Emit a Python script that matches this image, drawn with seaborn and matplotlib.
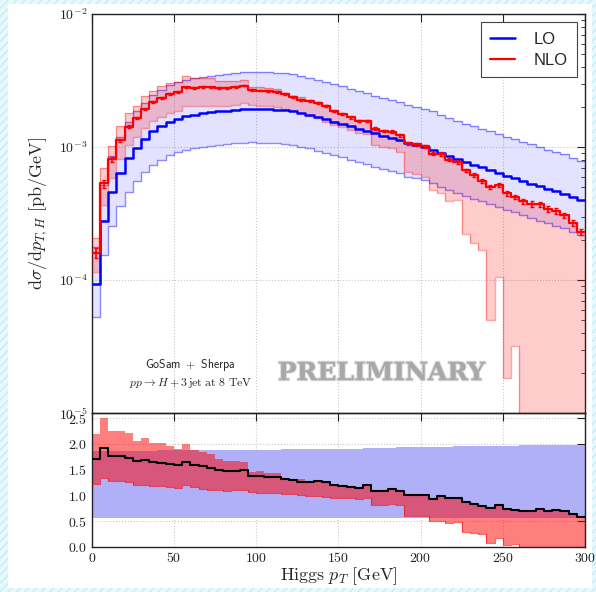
import numpy as np
import pandas as pd
import matplotlib
matplotlib.use("Agg")
import matplotlib.pyplot as plt
import seaborn as sns
from matplotlib.ticker import FixedLocator, FuncFormatter, NullFormatter
import matplotlib.patheffects as pe
from matplotlib.patches import Rectangle

# ---------------- data ----------------
bin_edges = np.arange(0, 305, 5)  # Higgs pT bins [GeV]

# LO central prediction [pb/GeV]
lo = [9.4e-5, 2.77e-4, 4.57e-4, 6.38e-4, 8.2e-4, 9.9e-4, 1.15e-3, 1.31e-3, 1.43e-3, 1.55e-3,
      1.63e-3, 1.70e-3, 1.75e-3, 1.80e-3, 1.83e-3, 1.85e-3, 1.88e-3, 1.90e-3, 1.93e-3, 1.94e-3,
      1.93e-3, 1.93e-3, 1.91e-3, 1.89e-3, 1.85e-3, 1.80e-3, 1.75e-3, 1.68e-3, 1.61e-3, 1.55e-3,
      1.50e-3, 1.43e-3, 1.37e-3, 1.32e-3, 1.27e-3, 1.22e-3, 1.17e-3, 1.13e-3, 1.07e-3, 1.04e-3,
      1.00e-3, 9.55e-4, 9.0e-4, 8.5e-4, 8.1e-4, 7.7e-4, 7.36e-4, 7.03e-4, 6.68e-4, 6.38e-4,
      6.1e-4, 5.82e-4, 5.56e-4, 5.31e-4, 5.09e-4, 4.86e-4, 4.65e-4, 4.44e-4, 4.19e-4, 3.98e-4]

# LO scale band, relative to LO
lo_up_ratio = [1.87, 1.87, 1.87, 1.87, 1.87, 1.87, 1.87, 1.87, 1.88, 1.88,
               1.88, 1.88, 1.88, 1.88, 1.88, 1.88, 1.89, 1.89, 1.89, 1.89,
               1.89, 1.89, 1.89, 1.90, 1.90, 1.90, 1.90, 1.90, 1.90, 1.91,
               1.91, 1.91, 1.91, 1.92, 1.92, 1.92, 1.92, 1.93, 1.93, 1.93,
               1.93, 1.94, 1.94, 1.94, 1.95, 1.95, 1.95, 1.95, 1.96, 1.96,
               1.96, 1.96, 1.97, 1.97, 1.97, 1.97, 1.98, 1.98, 1.98, 1.98]
lo_dn_ratio = [0.56, 0.56, 0.56, 0.56, 0.56, 0.56, 0.56, 0.56, 0.56, 0.56,
               0.56, 0.56, 0.56, 0.56, 0.56, 0.56, 0.56, 0.56, 0.56, 0.56,
               0.56, 0.56, 0.56, 0.56, 0.56, 0.56, 0.56, 0.56, 0.56, 0.56,
               0.56, 0.56, 0.56, 0.56, 0.56, 0.56, 0.56, 0.56, 0.56, 0.56,
               0.56, 0.56, 0.56, 0.56, 0.56, 0.56, 0.555, 0.555, 0.555, 0.555,
               0.555, 0.555, 0.55, 0.55, 0.55, 0.55, 0.55, 0.55, 0.55, 0.55]

# NLO / LO central
nlo_ratio = [1.70, 1.92, 1.77, 1.76, 1.735, 1.67, 1.69, 1.657, 1.631, 1.611,
             1.592, 1.65, 1.592, 1.565, 1.533, 1.493, 1.474, 1.48, 1.50, 1.376,
             1.376, 1.356, 1.35, 1.317, 1.291, 1.258, 1.258, 1.278, 1.258, 1.20,
             1.18, 1.167, 1.147, 1.193, 1.082, 1.082, 1.114, 1.082, 0.997, 1.01,
             1.01, 0.931, 0.984, 0.944, 0.951, 0.866, 0.833, 0.788, 0.755, 0.807,
             0.735, 0.722, 0.703, 0.703, 0.729, 0.703, 0.709, 0.69, 0.644, 0.578]

# NLO scale band, relative to LO
nlo_up_ratio = [2.19, 2.50, 2.245, 2.245, 2.21, 2.05, 2.11, 2.01, 2.01, 1.95,
                1.90, 2.00, 1.885, 1.85, 1.81, 1.70, 1.67, 1.66, 1.65, 1.455,
                1.475, 1.44, 1.44, 1.34, 1.31, 1.31, 1.28, 1.30, 1.28, 1.21,
                1.19, 1.175, 1.155, 1.20, 1.09, 1.09, 1.12, 1.09, 1.005, 1.015,
                1.015, 0.935, 0.99, 0.95, 0.955, 0.87, 0.838, 0.792, 0.76, 0.81,
                0.74, 0.727, 0.708, 0.708, 0.733, 0.708, 0.713, 0.695, 0.65, 0.585]
nlo_dn_ratio = [1.23, 1.33, 1.28, 1.28, 1.265, 1.21, 1.21, 1.19, 1.18, 1.17,
                1.15, 1.20, 1.16, 1.13, 1.11, 1.10, 1.09, 1.095, 1.11, 1.06,
                1.05, 1.05, 1.04, 1.03, 1.02, 1.00, 0.98, 0.98, 0.96, 0.95,
                0.95, 0.945, 0.93, 0.95, 0.82, 0.815, 0.84, 0.815, 0.605, 0.605,
                0.59, 0.50, 0.505, 0.46, 0.49, 0.29, 0.26, 0.24, 0.075, 0.165,
                0.03, 0.055, 0.0, 0.0, 0.0, 0.0, 0.0, 0.0, 0.0, 0.0]

# NLO statistical error (relative)
nlo_err = [0.09, 0.07, 0.04, 0.03, 0.025, 0.02, 0.018, 0.016, 0.015, 0.015,
           0.015, 0.015, 0.015, 0.015, 0.015, 0.015, 0.015, 0.015, 0.015, 0.015,
           0.015, 0.015, 0.015, 0.015, 0.015, 0.017, 0.018, 0.018, 0.018, 0.02,
           0.02, 0.02, 0.02, 0.022, 0.022, 0.022, 0.025, 0.025, 0.025, 0.025,
           0.028, 0.028, 0.03, 0.03, 0.03, 0.032, 0.032, 0.035, 0.035, 0.035,
           0.04, 0.04, 0.045, 0.045, 0.045, 0.05, 0.05, 0.05, 0.055, 0.06]

series_labels = ["LO", "NLO"]

# ---------------- derived quantities ----------------
lo = np.array(lo)
nlo = lo * np.array(nlo_ratio)
lo_up = lo * np.array(lo_up_ratio)
lo_dn = lo * np.array(lo_dn_ratio)
nlo_up = lo * np.array(nlo_up_ratio)
nlo_dn = np.clip(lo * np.array(nlo_dn_ratio), 1e-8, None)
centers = 0.5 * (bin_edges[:-1] + bin_edges[1:])


def ext(a):
    a = np.asarray(a, dtype=float)
    return np.append(a, a[-1])


# ---------------- style ----------------
sns.set_style("white")
plt.rcParams.update({
    "mathtext.fontset": "cm",
    "font.family": ["DejaVu Sans"],
    "axes.linewidth": 1.0,
    "axes.edgecolor": "#222222",
    "xtick.direction": "in",
    "ytick.direction": "in",
    "xtick.top": True,
    "ytick.right": True,
    "xtick.major.size": 6,
    "ytick.major.size": 6,
    "xtick.minor.size": 3,
    "ytick.minor.size": 3,
    "xtick.color": "#222222",
    "ytick.color": "#222222",
    "hatch.linewidth": 1.0,
})

W, H = 596, 592
fig = plt.figure(figsize=(W / 100, H / 100), dpi=100)

# page frame (light cyan hatched border)
fig.patches.append(Rectangle((0, 0), 1, 1, transform=fig.transFigure,
                             facecolor="#e8f9fc", edgecolor="#c4eef7", hatch="////",
                             lw=0, zorder=-20))
fig.patches.append(Rectangle((8 / W, 4 / H), (W - 12) / W, (H - 8) / H,
                             transform=fig.transFigure, facecolor="white",
                             lw=0, zorder=-19))

x0, x1 = 91.7, 585.0
ax1 = fig.add_axes([x0 / W, 1 - 413 / H, (x1 - x0) / W, (413 - 14) / H])
ax2 = fig.add_axes([x0 / W, 1 - 546.8 / H, (x1 - x0) / W, (546.8 - 413) / H])
for a in (ax1, ax2):
    a.set_facecolor("none")

ax1.set_yscale("log")

# ---------------- main panel ----------------
ax1.fill_between(bin_edges, ext(lo_dn), ext(lo_up), step="post",
                 color="#2020ff", alpha=0.12, lw=0, zorder=1)
ax1.step(bin_edges, ext(lo_up), where="post", color="blue", lw=1.0, alpha=0.45, zorder=2)
ax1.step(bin_edges, ext(lo_dn), where="post", color="blue", lw=1.0, alpha=0.45, zorder=2)

ax1.fill_between(bin_edges, ext(nlo_dn), ext(nlo_up), step="post",
                 color="red", alpha=0.2, lw=0, zorder=3)
ax1.step(bin_edges, ext(nlo_up), where="post", color="red", lw=1.0, alpha=0.35, zorder=4)
ax1.step(bin_edges, ext(nlo_dn), where="post", color="red", lw=1.0, alpha=0.35, zorder=4)

df_lo = pd.DataFrame({"pT": bin_edges, "xs": ext(lo)})
df_nlo = pd.DataFrame({"pT": bin_edges, "xs": ext(nlo)})
sns.lineplot(data=df_lo, x="pT", y="xs", drawstyle="steps-post", color="blue",
             lw=1.8, ax=ax1, estimator=None, label=series_labels[0], zorder=6)
sns.lineplot(data=df_nlo, x="pT", y="xs", drawstyle="steps-post", color="red",
             lw=1.6, ax=ax1, estimator=None, label=series_labels[1], zorder=7)
ax1.errorbar(centers, nlo, yerr=nlo * np.array(nlo_err), fmt="none", ecolor="red",
             elinewidth=1.2, capsize=1.5, capthick=1.0, zorder=7)

ax1.set_xlim(0, 300)
ax1.set_ylim(1e-5, 1e-2)
ax1.yaxis.set_major_locator(FixedLocator([1e-5, 1e-4, 1e-3, 1e-2]))
ax1.yaxis.set_major_formatter(FuncFormatter(lambda v, p: r"$10^{%d}$" % round(np.log10(v))))
minors = [m * 10.0 ** e for e in (-5, -4, -3) for m in range(2, 10)]
ax1.yaxis.set_minor_locator(FixedLocator(minors))
ax1.yaxis.set_minor_formatter(NullFormatter())
ax1.xaxis.set_major_locator(FixedLocator([0, 50, 100, 150, 200, 250, 300]))
ax1.tick_params(axis="x", labelbottom=False)
ax1.tick_params(axis="y", labelsize=10, pad=3)
ax1.grid(True, which="major", color="#c8c8c8", ls=":", lw=0.8)
ax1.set_xlabel("")
ax1.set_ylabel(r"$\mathrm{d}\sigma/\mathrm{d}p_{T,H}\ [\mathrm{pb/GeV}]$", fontsize=13)
ax1.yaxis.set_label_coords(-0.085, 0.5)

leg = ax1.legend(loc="upper right", fontsize=12, frameon=True, fancybox=False,
                 framealpha=1, edgecolor="#444444", handlelength=1.5,
                 handletextpad=1.1, labelspacing=0.4, borderpad=0.55,
                 prop={"family": "Liberation Sans", "size": 12})
leg.get_frame().set_linewidth(0.8)

ax1.text(0.20, 0.12, r"$\mathsf{GoSam}\ +\ \mathsf{Sherpa}$", transform=ax1.transAxes,
         ha="center", va="center", fontsize=8.5)
ax1.text(0.20, 0.075, r"$pp\rightarrow H+3\,\mathrm{jet\ at\ 8\ TeV}$", transform=ax1.transAxes,
         ha="center", va="center", fontsize=8.5)
ax1.text(0.587, 0.10, "PRELIMINARY", transform=ax1.transAxes, ha="center", va="center",
         fontsize=18, fontweight="bold", family="DejaVu Serif", color="#a8a8a8",
         path_effects=[pe.withStroke(linewidth=1.6, foreground="#b4b4b4", alpha=0.5)])

# ---------------- ratio panel ----------------
ax2.fill_between(bin_edges, ext(lo_dn_ratio), ext(lo_up_ratio), step="post",
                 color="#b0b0f8", lw=0, zorder=1)
ax2.fill_between(bin_edges, ext(nlo_dn_ratio), ext(nlo_up_ratio), step="post",
                 color="red", alpha=0.5, lw=0, zorder=2)
ax2.step(bin_edges, ext(nlo_dn_ratio), where="post", color="red", lw=0.8, alpha=0.6, zorder=3)
df_r = pd.DataFrame({"pT": bin_edges, "r": ext(nlo_ratio)})
sns.lineplot(data=df_r, x="pT", y="r", drawstyle="steps-post", color="black",
             lw=1.5, ax=ax2, estimator=None, zorder=5)

ax2.set_xlim(0, 300)
ax2.set_ylim(0, 2.6)
ax2.xaxis.set_major_locator(FixedLocator([0, 50, 100, 150, 200, 250, 300]))
ax2.xaxis.set_major_formatter(FuncFormatter(lambda v, p: r"$%d$" % v))
ax2.yaxis.set_major_locator(FixedLocator([0.0, 0.5, 1.0, 1.5, 2.0, 2.5]))
ax2.yaxis.set_major_formatter(FuncFormatter(lambda v, p: r"$%.1f$" % v))
ax2.tick_params(labelsize=10, pad=3)
ax2.grid(True, which="major", color="#c8c8c8", ls=":", lw=0.8)
ax2.set_ylabel("")
ax2.set_xlabel(r"$\mathrm{Higgs}\ p_T\ [\mathrm{GeV}]$", fontsize=13)
ax2.xaxis.set_label_coords(0.5, -0.14)

fig.savefig("out.png", dpi=100)
